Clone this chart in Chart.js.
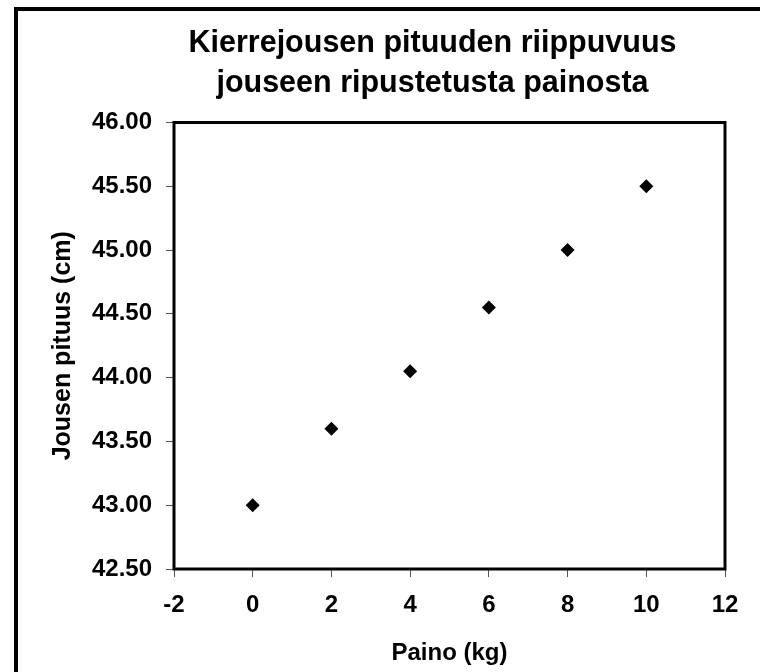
<!DOCTYPE html>
<html>
<head>
<meta charset="utf-8">
<script src="https://cdn.jsdelivr.net/npm/chart.js@4"></script>
<style>
  html, body { margin: 0; padding: 0; background: #fff; }
  #wrap { width: 760px; height: 672px; }
</style>
</head>
<body>
<div id="wrap"><canvas id="springChart" width="760" height="672"></canvas></div>
<script>
// data
const weights = [0, 2, 4, 6, 8, 10];                   // Paino (kg)
const lengths = [43.0, 43.6, 44.05, 44.55, 45.0, 45.5]; // Jousen pituus (cm)
const titleLines = ["Kierrejousen pituuden riippuvuus", "jouseen ripustetusta painosta"];
const xTitle = "Paino (kg)";
const yTitle = "Jousen pituus (cm)";

const FONT = "'Liberation Sans', Arial, sans-serif";

// white page, the outer frame (only its top and left edges fall inside the picture) and the plot box
const framePlugin = {
    id: "frame",
    afterLayout(chart) {
        // the title in the reference is centred on a wider frame that runs off the right edge
        chart.titleBlock.left = 105;
        chart.titleBlock.right = chart.width;
    },
    beforeDraw(chart) {
        const ctx = chart.ctx;
        ctx.save();
        ctx.fillStyle = "#fff";
        ctx.fillRect(0, 0, chart.width, chart.height);
        ctx.strokeStyle = "#000";
        ctx.lineWidth = 4;
        ctx.beginPath();
        ctx.moveTo(16, chart.height + 5);
        ctx.lineTo(16, 9);
        ctx.lineTo(chart.width + 5, 9);
        ctx.stroke();
        ctx.restore();
    },
    afterDatasetsDraw(chart) {
        const { left, top, right, bottom } = chart.chartArea;
        const ctx = chart.ctx;
        ctx.save();
        ctx.strokeStyle = "#000";
        ctx.lineWidth = 3;
        ctx.strokeRect(left, top, right - left, bottom - top);
        ctx.restore();
    }
};

new Chart(document.getElementById("springChart"), {
    type: "scatter",
    data: {
        datasets: [{
            data: weights.map((w, i) => ({ x: w, y: lengths[i] })),
            pointStyle: "rectRot",
            pointRadius: 7,
            pointHoverRadius: 7,
            backgroundColor: "#000",
            borderColor: "#000",
            borderWidth: 0
        }]
    },
    options: {
        responsive: false,
        animation: false,
        layout: { padding: { left: 0, right: 35, top: 0, bottom: 0 } },
        plugins: {
            legend: { display: false },
            tooltip: { enabled: false },
            title: {
                display: true,
                text: titleLines,
                color: "#000",
                font: { family: FONT, size: 30.5, weight: "bold", lineHeight: 1.32 },
                padding: { top: 23, bottom: 19 }
            }
        },
        scales: {
            x: {
                type: "linear",
                min: -2,
                max: 12,
                border: { display: false },
                grid: { drawOnChartArea: false, tickLength: 8, tickColor: "#555", tickWidth: 1 },
                ticks: {
                    stepSize: 2,
                    padding: 14,
                    color: "#000",
                    font: { family: FONT, size: 24, weight: "bold" }
                },
                title: {
                    display: true,
                    text: xTitle,
                    color: "#000",
                    font: { family: FONT, size: 24, weight: "bold" },
                    padding: { top: 0, bottom: 4 }
                },
                afterFit(scale) { scale.height = 103; }
            },
            y: {
                type: "linear",
                min: 42.5,
                max: 46,
                border: { display: false },
                grid: { drawOnChartArea: false, tickLength: 8, tickColor: "#555", tickWidth: 1 },
                ticks: {
                    stepSize: 0.5,
                    padding: 14,
                    color: "#000",
                    font: { family: FONT, size: 24, weight: "bold" },
                    callback: v => v.toFixed(2)
                },
                title: {
                    display: true,
                    text: yTitle,
                    color: "#000",
                    font: { family: FONT, size: 25, weight: "bold" },
                    padding: { top: 48, bottom: 0 }
                },
                afterFit(scale) { scale.width = 174; }
            }
        }
    },
    plugins: [framePlugin]
});
</script>
</body>
</html>
